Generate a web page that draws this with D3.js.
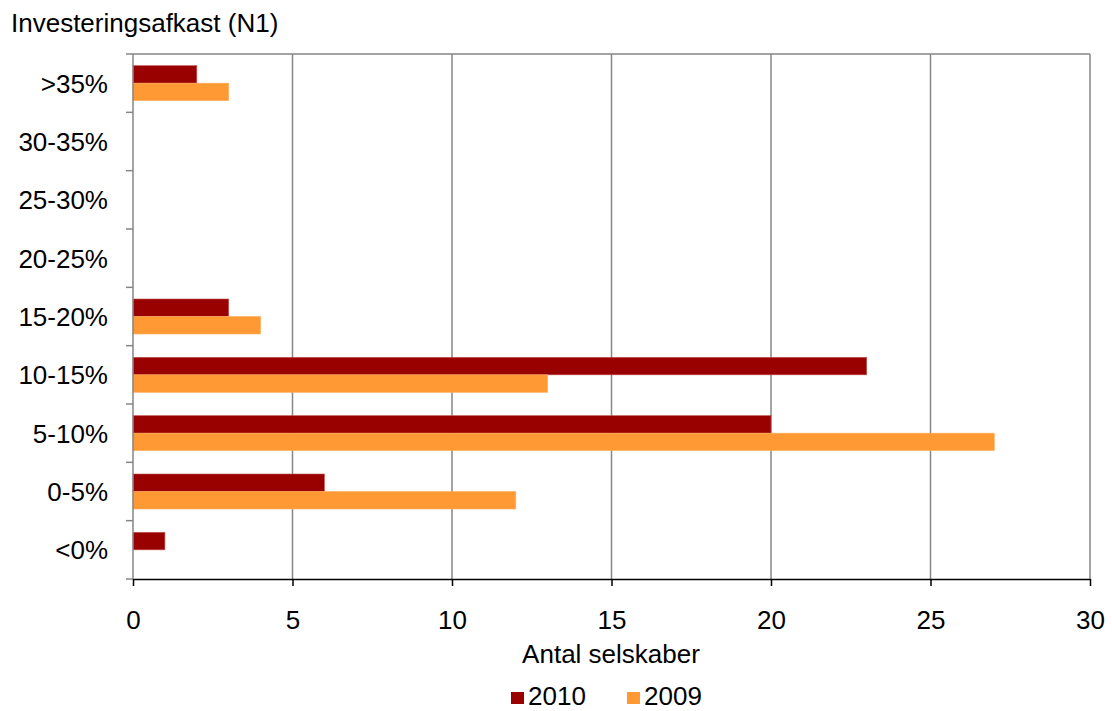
<!DOCTYPE html>
<html>
<head>
<meta charset="utf-8">
<script src="https://cdn.jsdelivr.net/npm/d3@7"></script>
<style>
  body { margin: 0; background: #fff; }
  svg { display: block; font-family: "Liberation Sans", Arial, sans-serif; }
</style>
</head>
<body>
<svg id="chart" width="1112" height="711"></svg>
<script>
// Return-on-investment bands (top to bottom) and company counts per year
const categories = [">35%", "30-35%", "25-30%", "20-25%", "15-20%", "10-15%", "5-10%", "0-5%", "<0%"];
const values2010 = [2, 0, 0, 0, 3, 23, 20, 6, 1];
const values2009 = [3, 0, 0, 0, 4, 13, 27, 12, 0];
const seriesNames = ["2010", "2009"];
const seriesColors = ["#990000", "#FF9933"];
const xTicks = [0, 5, 10, 15, 20, 25, 30];

const FONT = 26;
const svg = d3.select("#chart");
const W = 1112, H = 711;
const x0 = 133, x1 = 1090, y0 = 54, y1 = 579;

const x = d3.scaleLinear().domain([0, 30]).range([x0, x1]);
const y = d3.scaleBand().domain(categories).range([y0, y1]).paddingInner(0.4).paddingOuter(0.2);
const ySub = d3.scaleBand().domain(seriesNames).range([0, y.bandwidth()]);

// Vertical gridlines
svg.append("g").selectAll("line").data(xTicks.slice(1)).join("line")
  .attr("x1", d => x(d)).attr("x2", d => x(d))
  .attr("y1", y0).attr("y2", y1)
  .attr("stroke", "#868686").attr("stroke-width", 1.5);

// Plot-area border (top)
svg.append("line").attr("x1", x0).attr("x2", x1).attr("y1", y0).attr("y2", y0)
  .attr("stroke", "#868686").attr("stroke-width", 1.5);

// Bars
const rows = categories.map((c, i) => ({ c, vals: [values2010[i], values2009[i]] }));
const g = svg.append("g");
rows.forEach(r => {
  r.vals.forEach((v, j) => {
    if (v <= 0) return;
    g.append("rect")
      .attr("x", x(0))
      .attr("y", y(r.c) + ySub(seriesNames[j]))
      .attr("width", x(v) - x(0))
      .attr("height", ySub.bandwidth())
      .attr("fill", seriesColors[j])
      .attr("stroke", j === 0 ? "#c0504d" : "#ffb060")
      .attr("stroke-width", 0.6);
  });
});

// Left axis with ticks between categories
const boundaries = d3.range(categories.length + 1).map(i => y0 + i * (y1 - y0) / categories.length);
svg.append("line").attr("x1", x0).attr("x2", x0).attr("y1", y0).attr("y2", y1)
  .attr("stroke", "#868686").attr("stroke-width", 1.5);
svg.append("g").selectAll("line").data(boundaries).join("line")
  .attr("x1", x0 - 7).attr("x2", x0).attr("y1", d => d).attr("y2", d => d)
  .attr("stroke", "#868686").attr("stroke-width", 1.5);

// Category labels
svg.append("g").selectAll("text").data(categories).join("text")
  .attr("x", 108)
  .attr("y", d => y(d) + y.bandwidth() / 2 + 9.5)
  .attr("text-anchor", "end")
  .attr("font-size", FONT)
  .attr("fill", "#000")
  .text(d => d);

// Bottom axis
const xAxis = d3.axisBottom(x).tickValues(xTicks).tickSize(7).tickPadding(0).tickSizeOuter(0);
const ax = svg.append("g").attr("transform", `translate(0,${y1})`).call(xAxis);
ax.select(".domain").attr("stroke", "#000").attr("stroke-width", 1.5);
ax.selectAll(".tick line").attr("stroke", "#000").attr("stroke-width", 1.5);
ax.selectAll(".tick text").attr("font-size", FONT).attr("fill", "#000")
  .attr("font-family", "Liberation Sans, Arial, sans-serif")
  .attr("dy", null).attr("y", 629 - y1);

// Axis titles
svg.append("text").attr("x", 611).attr("y", 663).attr("text-anchor", "middle")
  .attr("font-size", FONT).text("Antal selskaber");
svg.append("text").attr("x", 11).attr("y", 32).attr("font-size", FONT)
  .text("Investeringsafkast (N1)");

// Legend
const legend = svg.append("g");
const legendItems = [{ name: "2010", x: 511 }, { name: "2009", x: 627 }];
legendItems.forEach((it, i) => {
  legend.append("rect").attr("x", it.x).attr("y", 692).attr("width", 13).attr("height", 12)
    .attr("fill", seriesColors[i]);
  legend.append("text").attr("x", it.x + 17).attr("y", 705).attr("font-size", FONT).text(it.name);
});
</script>
</body>
</html>
